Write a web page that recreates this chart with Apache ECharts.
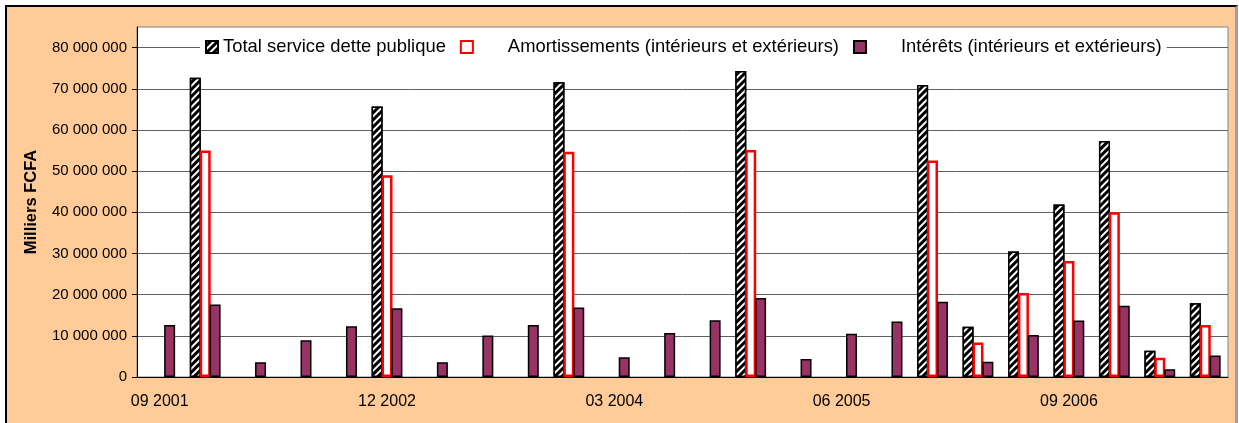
<!DOCTYPE html>
<html>
<head>
<meta charset="utf-8">
<script src="https://cdn.jsdelivr.net/npm/echarts@6/dist/echarts.min.js"></script>
<style>
  html, body { margin: 0; background: #fff; overflow: hidden; }
  #frame { position: absolute; left: 5px; top: 5px; width: 1228px; height: 430px;
           background: #ffcc99; border-left: 2px solid #000; border-top: 2px solid #000;
           border-right: 3px solid #a0a0a0; }
  #chart { position: absolute; left: 0; top: 0; width: 1239px; height: 423px; }
</style>
</head>
<body>
<div id="frame"></div>
<div id="chart"></div>
<script>
// trimestres
const categories = ['09 2001', '12 2001', '03 2002', '06 2002', '09 2002', '12 2002',
  '03 2003', '06 2003', '09 2003', '12 2003', '03 2004', '06 2004',
  '09 2004', '12 2004', '03 2005', '06 2005', '09 2005', '12 2005',
  '03 2006', '06 2006', '09 2006', '12 2006', '03 2007', '06 2007']

const seriesNames = ['Total service dette publique',
  'Amortissements (intérieurs et extérieurs)',
  'Intérêts (intérieurs et extérieurs)']

// Milliers FCFA
const totalService = [null, 72700000, null, null, null, 65700000,
  null, null, null, 71600000, null, null,
  null, 74300000, null, null, null, 70900000,
  12200000, 30500000, 41900000, 57300000, 6400000, 17900000]

const amortissements = [null, 55000000, null, null, null, 49000000,
  null, null, null, 54700000, null, null,
  null, 55100000, null, null, null, 52600000,
  8400000, 20400000, 28200000, 40000000, 4700000, 12600000]

const interets = [12600000, 17600000, 3600000, 8900000, 12300000, 16700000,
  3600000, 10100000, 12600000, 16900000, 4800000, 10700000,
  13800000, 19200000, 4400000, 10500000, 13500000, 18300000,
  3700000, 10200000, 13700000, 17300000, 1900000, 5200000]

const yTicks = [0, 10000000, 20000000, 30000000, 40000000, 50000000, 60000000, 70000000, 80000000]

const fmt = (v) => String(v).replace(/\B(?=(\d{3})+(?!\d))/g, ' ')

const myChart = echarts.init(document.getElementById('chart'))
myChart.setOption({
  animation: false,
  textStyle: { fontFamily: 'Liberation Sans, Arial, sans-serif' },
  grid: {
    left: 137, right: 11, top: 27, bottom: 46,
    show: true, backgroundColor: '#fff', borderColor: '#808080', borderWidth: 1
  },
  legend: {
    data: seriesNames,
    left: 200,
    top: 37,
    padding: [1, 5],
    backgroundColor: '#fff',
    itemGap: 14,
    itemWidth: 12,
    itemHeight: 12,
    icon: 'rect',
    formatter: function (name) {
      return name === seriesNames[0] ? name : '{gap|}' + name
    },
    textStyle: {
      color: '#000',
      fontSize: 18.4,
      rich: { gap: { width: 30 } }
    }
  },
  xAxis: [
    {
      type: 'category',
      data: categories,
      axisLine: { lineStyle: { color: '#000' } },
      axisTick: { interval: 0, length: 5, lineStyle: { color: '#000' } },
      axisLabel: { interval: 4, color: '#000', fontSize: 16, margin: 17 },
      splitLine: { show: false }
    },
    {
      // petites graduations au centre des catégories
      type: 'category',
      data: categories,
      position: 'bottom',
      axisLine: { show: false },
      axisTick: { interval: 0, inside: true, alignWithLabel: true, length: 4, lineStyle: { color: '#000' } },
      axisLabel: { show: false },
      splitLine: { show: false }
    }
  ],
  yAxis: {
    type: 'value',
    min: 0,
    max: 85000000,
    interval: 10000000,
    name: 'Milliers FCFA',
    nameLocation: 'middle',
    nameRotate: 90,
    nameGap: 97,
    nameTextStyle: { color: '#000', fontSize: 16.5, fontWeight: 'bold' },
    axisLine: { show: true, lineStyle: { color: '#000' } },
    axisTick: { show: true, length: 5, customValues: yTicks, lineStyle: { color: '#000' } },
    axisLabel: { color: '#000', fontSize: 15, margin: 10, customValues: yTicks, formatter: fmt },
    splitLine: { lineStyle: { color: '#606060', width: 1 } }
  },
  series: [
    {
      name: seriesNames[0],
      type: 'bar',
      data: totalService,
      barWidth: 11,
      barGap: '-10%',
      itemStyle: {
        color: '#000',
        borderColor: '#000',
        borderWidth: 1.5,
        decal: {
          symbol: 'rect',
          color: '#fff',
          dashArrayX: [1, 0],
          dashArrayY: [2, 3],
          rotation: -Math.PI / 4
        }
      }
    },
    {
      name: seriesNames[1],
      type: 'bar',
      data: amortissements,
      barWidth: 11,
      barGap: '-10%',
      itemStyle: { color: '#fff', borderColor: '#ff0000', borderWidth: 2.5 }
    },
    {
      name: seriesNames[2],
      type: 'bar',
      data: interets,
      barWidth: 11,
      barGap: '-10%',
      itemStyle: { color: '#993366', borderColor: '#000', borderWidth: 1.5 }
    }
  ]
})
</script>
</body>
</html>
